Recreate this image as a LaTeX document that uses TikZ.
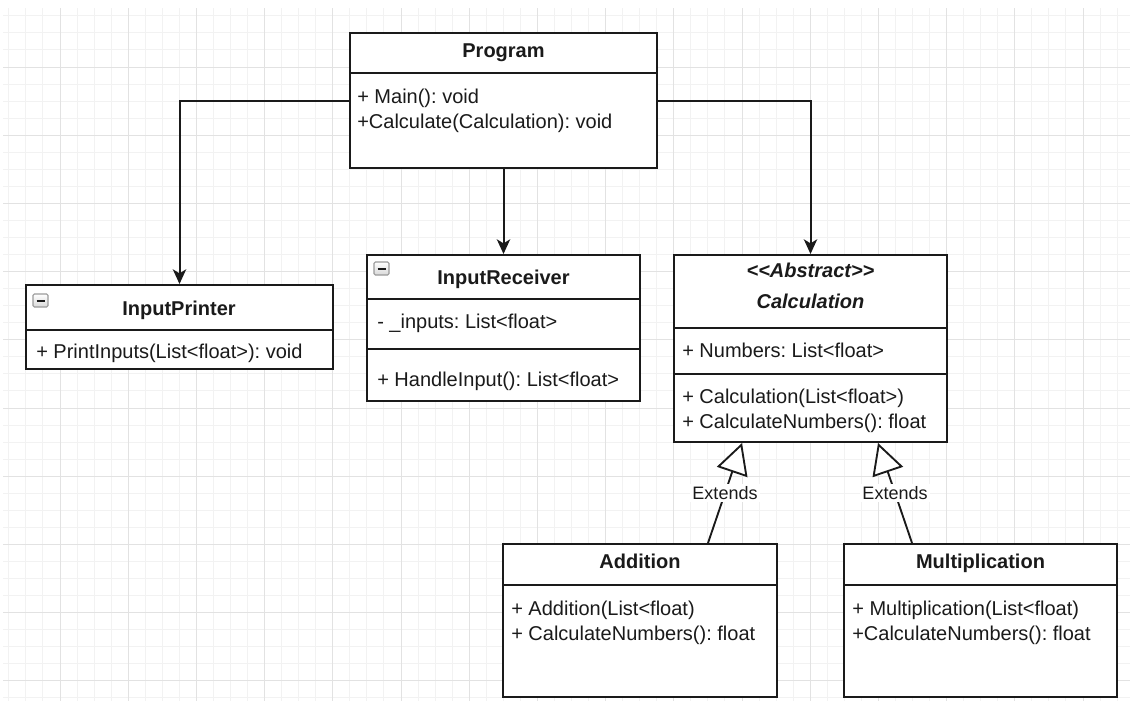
\documentclass[tikz,border=0pt]{standalone}
\usepackage{fontspec}
\setmainfont{Liberation Sans}
\usetikzlibrary{arrows.meta,fit,calc}
\definecolor{gridmajor}{HTML}{E2E2E2}
\definecolor{gridminor}{HTML}{F2F2F2}
\definecolor{ink}{HTML}{1A1A1A}
\definecolor{iconfill}{HTML}{D8D8D8}
\definecolor{iconedge}{HTML}{9A9A9A}
\frenchspacing

\begin{document}
\begin{tikzpicture}[x=0.75pt,y=-0.75pt,
  box/.style={draw=ink, line width=1.5pt, inner sep=0pt, fill=white},
  rule/.style={draw=ink, line width=1.5pt},
  title/.style={anchor=base, inner sep=0pt, text=ink, font=\fontsize{15}{18}\selectfont\bfseries},
  member/.style={anchor=base west, inner sep=0pt, text=ink, font=\fontsize{15}{18}\selectfont},
  assoc/.style={draw=ink, line width=1.5pt, -{Stealth[length=11pt,width=10pt,inset=3pt]}},
  extends/.style={draw=ink, line width=1.4pt, -{Triangle[open,length=23pt,width=24pt,fill=white]}},
  elabel/.style={fill=white, inner sep=1.5pt, text=ink, font=\fontsize{13.5}{16}\selectfont},
  collapse/.style={draw=iconedge, top color=white, bottom color=iconfill, line width=0.8pt, rounded corners=1pt},
]
\useasboundingbox (0,0) rectangle (1130,700);
\fill[white] (0,0) rectangle (1130,700);

% background grid
\begin{scope}
  \clip (3,8) rectangle (1130,700);
  \foreach \i in {0,...,65} { \draw[gridminor, line width=0.75pt] ({8.85+17.05*\i},8) -- ++(0,700); }
  \foreach \i in {0,...,40} { \draw[gridminor, line width=0.75pt] (3,{15.85+17.05*\i}) -- ++(1130,0); }
  \foreach \i in {0,...,15} { \draw[gridmajor, line width=0.75pt] ({60+68.2*\i},8) -- ++(0,700); }
  \foreach \i in {0,...,9}  { \draw[gridmajor, line width=0.75pt] (3,{67+68.2*\i}) -- ++(1130,0); }
\end{scope}

% class boxes
\node[box, fit={(350,33) (657,168)}] (prog) {};
\node[box, fit={(26,285) (333,369)}] (iprint) {};
\node[box, fit={(367,255) (640,401)}] (irecv) {};
\node[box, fit={(674,255) (947,442)}] (calc) {};
\node[box, fit={(503,544) (777,697)}] (add) {};
\node[box, fit={(844,544) (1117,697)}] (mult) {};

% compartment separators
\draw[rule] (350,73) -- (657,73);
\draw[rule] (26,330) -- (333,330);
\draw[rule] (367,299) -- (640,299);
\draw[rule] (367,349) -- (640,349);
\draw[rule] (674,328) -- (947,328);
\draw[rule] (674,374) -- (947,374);
\draw[rule] (503,585) -- (777,585);
\draw[rule] (844,585) -- (1117,585);

% collapse icons
\draw[collapse] (33,294) rectangle (48,307);
\draw[ink, line width=1.5pt] (36.5,300.5) -- (44.5,300.5);
\draw[collapse] (374,262) rectangle (389,275);
\draw[ink, line width=1.5pt] (377.5,268.5) -- (385.5,268.5);

% Program
\node[title] (prog-t) at (503.5,57) {Program};
\node[member] (prog-m1) at (357,103) {+ Main(): void};
\node[member] (prog-m2) at (357,128) {+Calculate(Calculation): void};

% InputPrinter
\node[title] (iprint-t) at (179,315) {InputPrinter};
\node[member] (iprint-m1) at (36,358) {+ PrintInputs(List<float>): void};

% InputReceiver
\node[title] (irecv-t) at (503.5,284) {InputReceiver};
\node[member] (irecv-a1) at (377,328) {- \_inputs: List<float>};
\node[member] (irecv-m1) at (377,386) {+ HandleInput(): List<float>};

% Calculation
\node[title, font=\fontsize{15}{18}\selectfont\bfseries\itshape] (calc-s) at (810.5,277) {<\kern0pt<Abstract>\kern0pt>};
\node[title, font=\fontsize{15}{18}\selectfont\bfseries\itshape] (calc-t) at (810.5,308) {Calculation};
\node[member] (calc-a1) at (682,357) {+ Numbers: List<float>};
\node[member] (calc-m1) at (682,403) {+ Calculation(List<float>)};
\node[member] (calc-m2) at (682,428) {+ CalculateNumbers(): float};

% Addition
\node[title] (add-t) at (640,568) {Addition};
\node[member] (add-m1) at (511,615) {+ Addition(List<float)};
\node[member] (add-m2) at (511,640) {+ CalculateNumbers(): float};

% Multiplication
\node[title] (mult-t) at (980.5,568) {Multiplication};
\node[member] (mult-m1) at (852,615) {+ Multiplication(List<float)};
\node[member] (mult-m2) at (852,640) {+CalculateNumbers(): float};

% associations
\draw[assoc] (prog.west) -| (iprint.north);
\draw[assoc] (prog.south) -- (irecv.north);
\draw[assoc] (prog.east) -| (calc.north);

% generalisations
\draw[extends] ($(add.north)+(68,0)$) -- node[elabel] (ext-add) {Extends} ($(calc.south)+(-68.5,0)$);
\draw[extends] ($(mult.north)+(-68.5,0)$) -- node[elabel] (ext-mult) {Extends} ($(calc.south)+(67.5,0)$);
\end{tikzpicture}
\end{document}
